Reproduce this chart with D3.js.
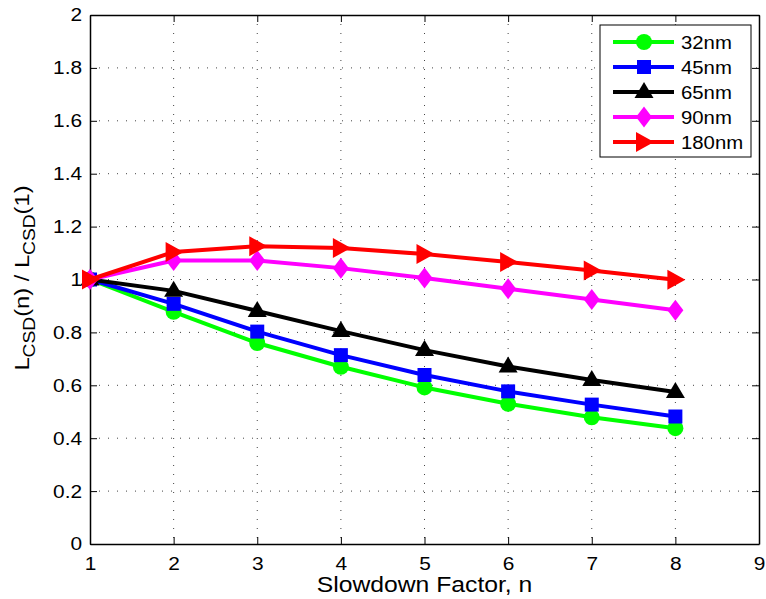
<!DOCTYPE html>
<html>
<head>
<meta charset="utf-8">
<script src="https://cdn.jsdelivr.net/npm/d3@7"></script>
<style>
  body { margin: 0; background: #fff; }
  text { font-family: "Liberation Sans", Arial, sans-serif; }
</style>
</head>
<body>
<svg id="chart" width="766" height="599"></svg>
<script>

// data
var factor = [1, 2, 3, 4, 5, 6, 7, 8];
var nm32  = [1.0, 0.878, 0.760, 0.670, 0.592, 0.530, 0.479, 0.438];
var nm45  = [1.0, 0.908, 0.803, 0.714, 0.639, 0.577, 0.527, 0.482];
var nm65  = [1.0, 0.957, 0.881, 0.805, 0.733, 0.671, 0.620, 0.575];
var nm90  = [1.0, 1.072, 1.072, 1.043, 1.006, 0.965, 0.924, 0.884];
var nm180 = [1.0, 1.104, 1.126, 1.119, 1.096, 1.066, 1.034, 0.999];

var labels = ["32nm", "45nm", "65nm", "90nm", "180nm"];
var xTicks = [1, 2, 3, 4, 5, 6, 7, 8, 9];
var yTicks = [0, 0.2, 0.4, 0.6, 0.8, 1, 1.2, 1.4, 1.6, 1.8, 2];

var series = [
  {name: labels[0], vals: nm32,  color: "#00ff00", mark: "circle"},
  {name: labels[1], vals: nm45,  color: "#0000ff", mark: "square"},
  {name: labels[2], vals: nm65,  color: "#000000", mark: "triangle"},
  {name: labels[3], vals: nm90,  color: "#ff00ff", mark: "diamond"},
  {name: labels[4], vals: nm180, color: "#ff0000", mark: "right"}
];

var L = 90, R = 759, T = 15, B = 544;
var WIDE = "scale(1.13,1)";   // matlab's helvetica runs wider than liberation

var svg = d3.select("#chart");

var x = d3.scaleLinear().domain([1, 9]).range([L, R]);
var y = d3.scaleLinear().domain([0, 2]).range([B, T]);

// marker shapes (pixel sizes)
function markPath(kind) {
  if (kind == "circle") {
    return "M8,0A8,8 0 1,1 -8,0A8,8 0 1,1 8,0Z";
  }
  if (kind == "square") return "M-7,-7L7,-7L7,7L-7,7Z";
  if (kind == "triangle") return "M0,-10L9.5,6L-9.5,6Z";
  if (kind == "diamond") return "M0,-10.5L8,0L0,10.5L-8,0Z";
  if (kind == "right") return "M10,0L-8,-10L-8,10Z";
}

// grid
var grid = svg.append("g");
xTicks.slice(1, -1).forEach(function (t) {
  grid.append("line")
    .attr("x1", x(t)).attr("x2", x(t)).attr("y1", T).attr("y2", B)
    .attr("stroke", "#444").attr("stroke-width", 1)
    .attr("stroke-dasharray", "1,8");
});
yTicks.slice(1, -1).forEach(function (t) {
  grid.append("line")
    .attr("x1", L).attr("x2", R).attr("y1", y(t)).attr("y2", y(t))
    .attr("stroke", "#444").attr("stroke-width", 1)
    .attr("stroke-dasharray", "1,8");
});

// axes (ticks inside, mirrored on top/right)
var ax = svg.append("g");
ax.append("g").attr("transform", "translate(0," + B + ")")
  .call(d3.axisBottom(x).tickValues(xTicks).tickSizeInner(-7).tickSizeOuter(0).tickPadding(13).tickFormat(d3.format("d")));
ax.append("g").attr("transform", "translate(0," + T + ")")
  .call(d3.axisTop(x).tickValues(xTicks).tickSizeInner(-7).tickSizeOuter(0).tickFormat(""));
ax.append("g").attr("transform", "translate(" + L + ",0)")
  .call(d3.axisLeft(y).tickValues(yTicks).tickSizeInner(-7).tickSizeOuter(0).tickPadding(7).tickFormat(function (d) { return d3.format("")(+d.toFixed(1)); }));
ax.append("g").attr("transform", "translate(" + R + ",0)")
  .call(d3.axisRight(y).tickValues(yTicks).tickSizeInner(-7).tickSizeOuter(0).tickFormat(""));
ax.selectAll("path.domain").attr("stroke", "#000").attr("stroke-width", 1.5);
ax.selectAll(".tick line").attr("stroke", "#000");
ax.selectAll("text").attr("font-size", 18.5).attr("fill", "#000")
  .attr("transform", WIDE)
  .style("font-family", "'Liberation Sans', Arial, sans-serif");

// series
var line = d3.line().x(function (d, i) { return x(factor[i]); }).y(function (d) { return y(d); });

series.forEach(function (s) {
  var g = svg.append("g");
  g.append("path").datum(s.vals)
    .attr("d", line)
    .attr("fill", "none").attr("stroke", s.color)
    .attr("stroke-width", 4).attr("stroke-linejoin", "round");
  g.selectAll("path.mk").data(s.vals).enter().append("path")
    .attr("class", "mk")
    .attr("d", markPath(s.mark))
    .attr("transform", function (d, i) { return "translate(" + x(factor[i]) + "," + y(d) + ")"; })
    .attr("fill", s.color);
});

// legend
var lg = svg.append("g");
lg.append("rect").attr("x", 600).attr("y", 25).attr("width", 151).attr("height", 132)
  .attr("fill", "#fff").attr("stroke", "#000").attr("stroke-width", 1);
series.forEach(function (s, i) {
  var ly = 42 + i * 25;
  lg.append("line").attr("x1", 613).attr("x2", 674).attr("y1", ly).attr("y2", ly)
    .attr("stroke", s.color).attr("stroke-width", 4);
  lg.append("path").attr("d", markPath(s.mark))
    .attr("transform", "translate(644," + ly + ")")
    .attr("fill", s.color);
  lg.append("text").attr("transform", "translate(681," + (ly + 6.5) + ") " + WIDE)
    .attr("font-size", 18).text(s.name);
});

// axis labels
svg.append("text").attr("transform", "translate(" + (L + R) / 2 + ",592) scale(1.15,1)")
  .attr("text-anchor", "middle").attr("font-size", 21.5)
  .text("Slowdown Factor, n");

var yl = svg.append("text")
  .attr("transform", "translate(29,278) rotate(-90) scale(1.13,1)")
  .attr("text-anchor", "middle").attr("font-size", 21);
yl.append("tspan").text("L");
yl.append("tspan").attr("font-size", 17).attr("dy", 6).text("CSD");
yl.append("tspan").attr("dy", -6).text("(n) / L");
yl.append("tspan").attr("font-size", 17).attr("dy", 6).text("CSD");
yl.append("tspan").attr("dy", -6).text("(1)");

</script>
</body>
</html>
